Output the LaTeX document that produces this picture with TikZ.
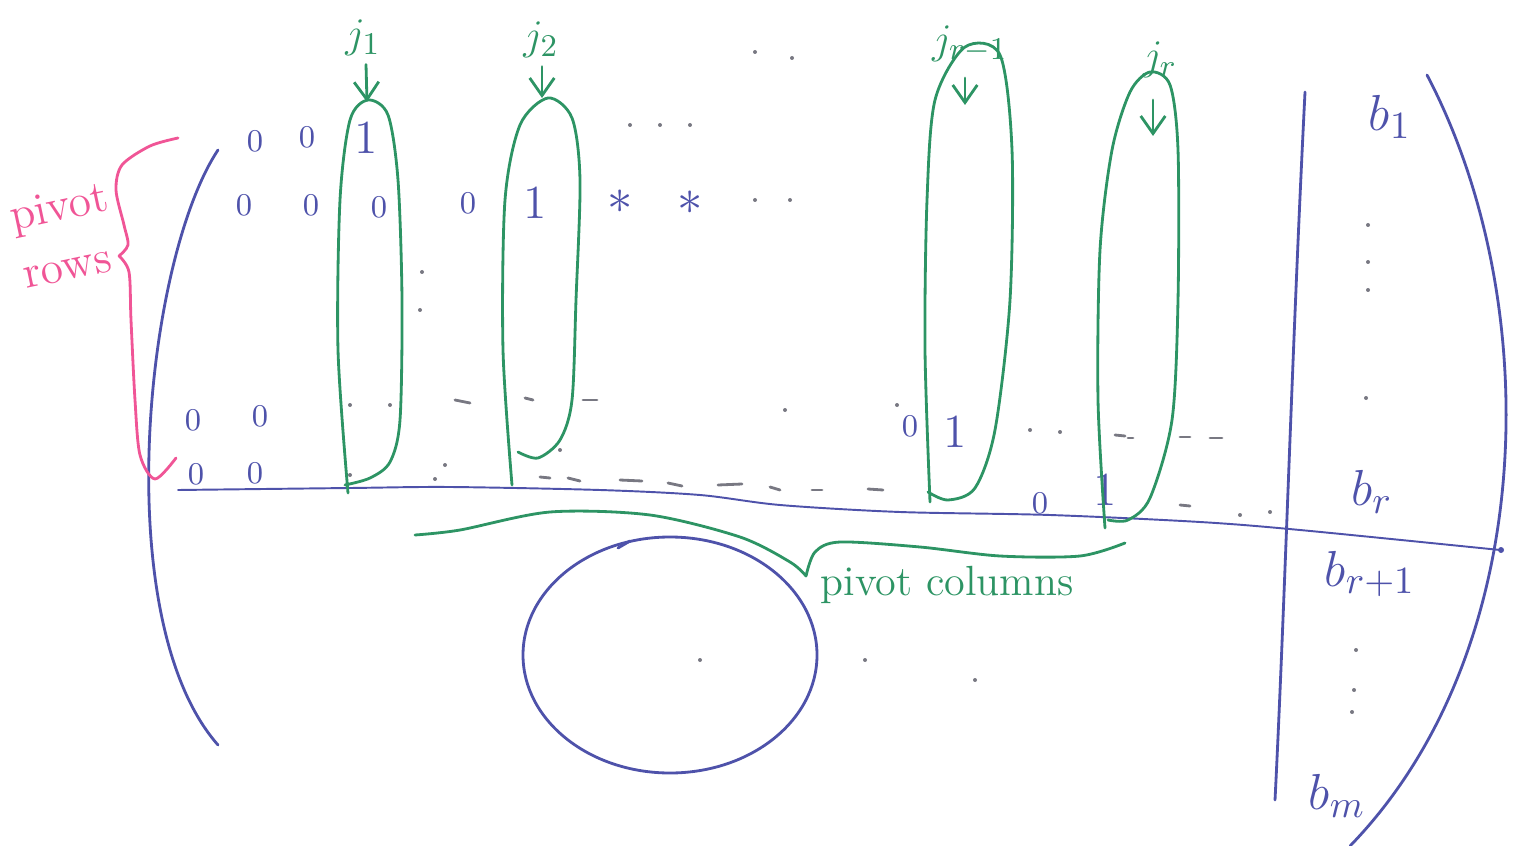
\documentclass[tikz,border=0pt]{standalone}
\usetikzlibrary{arrows.meta}
\definecolor{ink}{RGB}{78,82,170}
\definecolor{grn}{RGB}{45,148,100}
\definecolor{pnk}{RGB}{240,85,150}
\definecolor{spk}{RGB}{120,120,130}
\begin{document}
\begin{tikzpicture}[x=0.01cm,y=-0.01cm,
  inkline/.style={draw=ink,line width=0.8pt,line cap=round},
  grnline/.style={draw=grn,line width=0.8pt,line cap=round},
  pnkline/.style={draw=pnk,line width=0.8pt,line cap=round},
  entry/.style={text=ink,font=\fontsize{9}{9}\selectfont,inner sep=0pt},
  bigentry/.style={text=ink,font=\fontsize{13.5}{13.5}\selectfont,inner sep=0pt},
  blab/.style={text=ink,font=\fontsize{15}{15}\selectfont,inner sep=0pt},
  jlab/.style={text=grn,font=\fontsize{13}{13}\selectfont,inner sep=0pt},
  garrow/.style={grnline,-{Straight Barb[length=5pt,width=7pt]}},
  speck/.style={fill=spk},
  dashmark/.style={draw=spk,line width=0.8pt,line cap=round}]
\useasboundingbox (0,0) rectangle (1525,846);

% matrix brackets
\draw[inkline] (218,150) .. controls (145,260) and (108,620) .. (218,745);
\draw[inkline] (1427,75) .. controls (1545,300) and (1540,650) .. (1350,846);
% augmented bar
\draw[inkline] (1305,92) .. controls (1292,350) and (1285,600) .. (1275,800);
% horizontal separating line
\draw[inkline,line width=0.55pt] plot[smooth] coordinates {(178,490) (350,488) (450,487) (600,490) (700,495) (780,505) (900,512) (1050,515) (1200,522) (1300,530) (1500,550)};

% zero block ellipse
\draw[inkline] (670,655) ellipse [x radius=147, y radius=118];
\draw[inkline] (618,548) -- (630,541);

% entries row 1
\node[entry] (a11) at (255,141) {0};
\node[entry] (a12) at (307,137) {0};
\node[bigentry] (a13) at (366,138) {1};
% row 2
\node[entry] (a21) at (244,205) {0};
\node[entry] (a22) at (311,205) {0};
\node[entry] (a23) at (379,207) {0};
\node[entry] (a24) at (468,203) {0};
\node[bigentry] (a25) at (535,203) {1};
\node[bigentry] (a26) at (620,202) {$*$};
\node[bigentry] (a27) at (690,203) {$*$};
% row r-1
\node[entry] (a31) at (193,420) {0};
\node[entry] (a32) at (260,416) {0};
\node[entry] (a33) at (910,426) {0};
\node[bigentry] (a34) at (955,432) {1};
% row r
\node[entry] (a41) at (196,474) {0};
\node[entry] (a42) at (255,473) {0};
\node[entry] (a43) at (1040,503) {0};
\node[bigentry] (a44) at (1105,490) {1};

% specks and dashes
\foreach \p in {(630,125),(660,125),(690,125),(755,52),(792,58),(755,200),(790,200),
  (422,272),(420,310),(350,405),(390,405),(785,410),(897,405),(445,465),(350,475),
  (435,479),(560,450),(1368,225),(1368,262),(1368,290),(1366,398),(1356,650),
  (1354,690),(1352,712),(700,660),(865,660),(975,680),(1030,430),(1060,432),(1240,515),(1270,512)}
  \fill[speck] \p circle (2);
\foreach \a/\b in {{(455,400)}/{(470,403)}, {(525,398)}/{(533,400)}, {(583,400)}/{(597,400)},
  {(540,477)}/{(550,478)}, {(568,478)}/{(580,481)}, {(620,480)}/{(642,481)},
  {(668,483)}/{(682,486)}, {(718,485)}/{(742,484)}, {(770,487)}/{(780,490)},
  {(812,490)}/{(822,490)}, {(868,489)}/{(883,490)},
  {(1115,435)}/{(1125,436)}, {(1180,437)}/{(1190,437)}, {(1210,438)}/{(1222,438)},
  {(1180,505)}/{(1190,506)}, {(1128,438)}/{(1133,438)}}
  \draw[dashmark] \a -- \b;

% pivot column ovals
\draw[grnline] plot[smooth] coordinates {(348,493) (338,350) (340,200) (350,120) (368,100) (388,115) (398,180) (402,300) (400,420) (390,462) (370,478) (345,485)};
\draw[grnline] plot[smooth] coordinates {(512,485) (503,350) (505,200) (520,125) (548,98) (572,118) (580,180) (576,300) (572,400) (560,440) (538,458) (518,452)};
\draw[grnline] plot[smooth] coordinates {(930,502) (925,350) (927,200) (935,100) (965,47) (1000,55) (1012,150) (1010,300) (995,430) (975,488) (948,500) (928,492)};
\draw[grnline] plot[smooth] coordinates {(1105,528) (1098,400) (1100,250) (1112,150) (1130,92) (1150,72) (1170,85) (1178,150) (1178,300) (1172,420) (1150,498) (1128,520) (1108,520)};

% column labels and arrows
\node[jlab] (j1) at (363,38) {$j_1$};
\node[jlab] (j2) at (541,40) {$j_2$};
\node[jlab] (jr1) at (970,44) {$j_{r-1}$};
\node[jlab] (jr) at (1160,60) {$j_r$};
\coordinate (t1) at (367,102);
\coordinate (t2) at (542,98);
\coordinate (s3) at (965,78);
\coordinate (t3) at (965,105);
\coordinate (s4) at (1153,100);
\coordinate (t4) at (1153,136);
\draw[garrow] (j1.south) ++(3,8) -- (t1);
\draw[garrow] (j2.south) ++(1,8) -- (t2);
\draw[garrow] (s3) -- (t3);
\draw[garrow] (s4) -- (t4);

% pivot columns brace
\draw[grnline] plot[smooth] coordinates {(415,535) (460,530) (550,512) (650,515) (740,537) (790,562) (806,576)};
\draw[grnline] plot[smooth] coordinates {(806,576) (815,552) (840,542) (920,547) (1000,556) (1080,556) (1125,543)};
\node[text=grn,font=\fontsize{12}{12}\selectfont,anchor=west,inner sep=0pt] (pc) at (820,585) {pivot columns};

% pivot rows brace
\draw[pnkline] plot[smooth] coordinates {(178,138) (150,146) (122,165) (116,190) (124,225) (128,245) (119,256)};
\draw[pnkline] plot[smooth] coordinates {(119,256) (129,272) (131,320) (135,400) (140,455) (155,479) (176,458)};
\node[text=pnk,font=\fontsize{13}{13}\selectfont,inner sep=0pt,rotate=12] (pr1) at (60,210) {pivot};
\node[text=pnk,font=\fontsize{13}{13}\selectfont,inner sep=0pt,rotate=12] (pr2) at (68,270) {rows};

% right hand side
\node[blab] (b1) at (1390,117) {$b_1$};
\node[blab] (br) at (1372,492) {$b_r$};
\node[blab] (br1) at (1370,574) {$b_{r+1}$};
\node[blab] (bm) at (1337,796) {$b_m$};
\fill[ink] (1501,550) circle (3);
\end{tikzpicture}
\end{document}
